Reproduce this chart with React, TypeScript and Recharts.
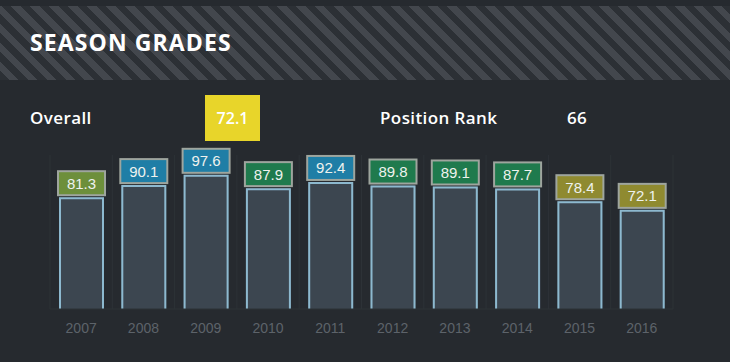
import { BarChart, Bar, XAxis, YAxis, CartesianGrid, LabelList } from 'recharts';

const seasons = ['2007', '2008', '2009', '2010', '2011', '2012', '2013', '2014', '2015', '2016'];
const grades = [81.3, 90.1, 97.6, 87.9, 92.4, 89.8, 89.1, 87.7, 78.4, 72.1];
const overallGrade = '72.1';
const positionRank = '66';

const chartData = seasons.map((season, i) => ({ season, grade: grades[i] }));

const BG = '#262a2f';

function gradeColor(v: number) {
  if (v >= 90) return '#1f7ea6';
  if (v >= 85) return '#1f7a4d';
  if (v >= 80) return '#6d8f3b';
  return '#8f8a30';
}

const GradeBar = (props: any) => {
  const { x, y, width, height } = props;
  return (
    <g>
      <rect x={x} y={y} width={width} height={height} fill="#3c4650" />
      <path
        d={`M${x + 1},${y + height} L${x + 1},${y + 1} L${x + width - 1},${y + 1} L${x + width - 1},${y + height}`}
        fill="none"
        stroke="#8db9cf"
        strokeWidth={2}
      />
    </g>
  );
};

const GradeLabel = (props: any) => {
  const { x, y, width, value } = props;
  const boxH = 24;
  return (
    <g>
      <rect
        x={x - 1}
        y={y - boxH - 2}
        width={width + 2}
        height={boxH}
        fill={gradeColor(value)}
        stroke="#9ea59e"
        strokeWidth={2}
      />
      <text
        x={x + width / 2}
        y={y - 2 - boxH / 2}
        textAnchor="middle"
        dominantBaseline="central"
        fill="#eef2ee"
        fontSize={15}
        fontFamily="'Liberation Sans', Arial, sans-serif"
      >
        {value.toFixed(1)}
      </text>
    </g>
  );
};

const statText = { position: 'absolute' as const, top: 106, color: '#ffffff', fontSize: 17, fontWeight: 600, lineHeight: '24px', letterSpacing: 0.4 };

export default function App() {
  return (
    <div
      style={{
        position: 'absolute',
        left: 0,
        top: 0,
        width: 730,
        height: 362,
        background: BG,
        overflow: 'hidden',
        fontFamily: "'Open Sans', sans-serif",
      }}
    >
      <div
        style={{
          position: 'absolute',
          left: 0,
          top: 6,
          width: 730,
          height: 74,
          background: 'repeating-linear-gradient(45deg, #2c3035 0px, #2c3035 6.5px, #43474d 6.5px, #43474d 13.4px)',
        }}
      />
      <div
        style={{
          position: 'absolute',
          left: 30,
          top: 27,
          color: '#ffffff',
          fontSize: 23,
          fontWeight: 700,
          lineHeight: '30px',
          letterSpacing: 1.1,
        }}
      >
        SEASON GRADES
      </div>
      <div style={{ ...statText, left: 30 }}>Overall</div>
      <div
        style={{
          position: 'absolute',
          left: 205,
          top: 95,
          width: 55,
          height: 46,
          background: '#e8d52a',
          color: '#ffffff',
          fontSize: 16,
          fontWeight: 600,
          display: 'flex',
          alignItems: 'center',
          justifyContent: 'center',
        }}
      >
        {overallGrade}
      </div>
      <div style={{ ...statText, left: 380 }}>Position Rank</div>
      <div style={{ ...statText, left: 567 }}>{positionRank}</div>

      <div style={{ position: 'absolute', left: 0, top: 0 }}>
        <BarChart width={730} height={362} data={chartData} margin={{ top: 155, right: 57, bottom: 23, left: 50 }} barSize={45}>
          <CartesianGrid
            horizontal={false}
            stroke="#2d3237"
            verticalCoordinatesGenerator={({ offset }: any) =>
              Array.from({ length: seasons.length + 1 }, (_, i) => offset.left + (i * offset.width) / seasons.length)
            }
          />
          <XAxis
            dataKey="season"
            height={30}
            axisLine={{ stroke: '#2d3237' }}
            tickLine={false}
            tickSize={0}
            tickMargin={14}
            tick={{ fill: '#5d636a', fontSize: 14, fontFamily: "'Liberation Sans', Arial, sans-serif" }}
          />
          <YAxis hide domain={[0, 112]} />
          <Bar dataKey="grade" shape={GradeBar} isAnimationActive={false}>
            <LabelList dataKey="grade" content={GradeLabel} />
          </Bar>
        </BarChart>
      </div>
    </div>
  );
}
